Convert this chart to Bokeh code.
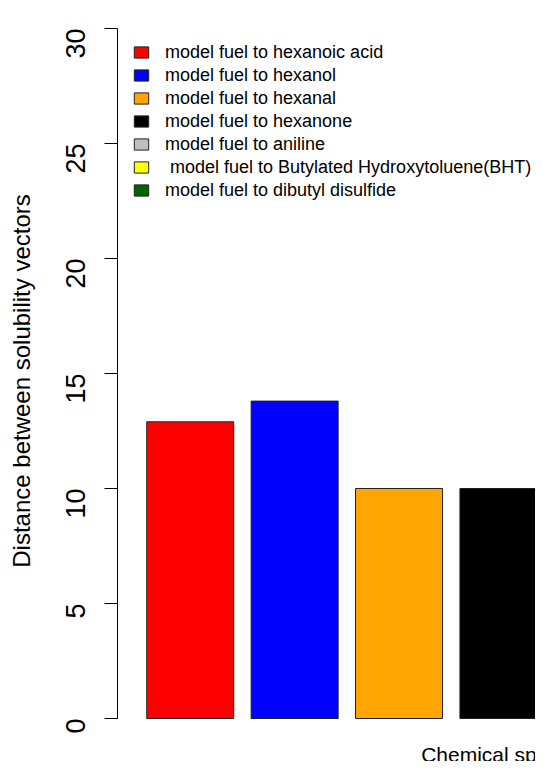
from bokeh.plotting import figure
from bokeh.models import ColumnDataSource, Legend, LegendItem, Label, Range1d
from bokeh.embed import file_html
from bokeh.resources import INLINE
import math

# ---- data ----
series_labels = [
    "model fuel to hexanoic acid",
    "model fuel to hexanol",
    "model fuel to hexanal",
    "model fuel to hexanone",
    "model fuel to aniline",
    "\u00a0model fuel to Butylated Hydroxytoluene(BHT)",
    "model fuel to dibutyl disulfide",
]
series_colors = ["#FF0000", "#0000FF", "#FFA500", "#000000", "#BEBEBE", "#FFFF00", "#006400"]
# bars beyond the right edge of the picture cannot be read -> NaN (not drawn)
values = [12.9, 13.8, 10.0, 10.0, float("nan"), float("nan"), float("nan")]
y_ticks = [0, 5, 10, 15, 20, 25, 30]
y_label = "Distance between solubility vectors"
x_label = "Chemical species"

FONT = "Liberation Sans"

# barplot geometry (R style: width 1, space 0.2)
bar_w = 1.0
space = 0.2
n_all = len(series_labels)
centers = [space + bar_w / 2 + i * (bar_w + space) for i in range(n_all)]
x_lo = space - 0.04 * (n_all * (bar_w + space))   # R 4% extension
px_per_x = 87.0
frame_w = 418
x_hi = x_lo + frame_w / px_per_x

px_per_y = 23.0
frame_h = 761
top_pad = 28
y_hi = y_ticks[-1] + top_pad / px_per_y
y_lo = y_hi - frame_h / px_per_y

p = figure(frame_width=frame_w, frame_height=frame_h,
           min_border_left=117, min_border_right=0, min_border_top=0, min_border_bottom=0,
           x_range=Range1d(x_lo, x_hi), y_range=Range1d(y_lo, y_hi),
           output_backend="svg", toolbar_location=None, x_axis_location=None)
p.grid.visible = False
p.outline_line_color = None
p.background_fill_color = "white"
p.border_fill_color = "white"

src = ColumnDataSource(dict(x=centers, top=values, color=series_colors))
bars = p.vbar(x="x", top="top", bottom=0, width=bar_w, source=src,
              fill_color="color", line_color="#222222", line_width=1)

# legend (one entry per bar colour)
items = [LegendItem(label=lab, renderers=[bars], index=i) for i, lab in enumerate(series_labels)]
legend_h = len(items) * 23 - 1
legend_top = 41
legend = Legend(items=items, location=(15, frame_h - legend_top - legend_h),
                glyph_width=18, glyph_height=14, label_standoff=15,
                label_height=22, spacing=1, padding=0, margin=0,
                label_text_font=FONT, label_text_font_size="18px", label_text_color="black",
                border_line_alpha=0, background_fill_alpha=0)
p.add_layout(legend)

ax = p.yaxis[0]
ax.ticker = y_ticks
ax.bounds = (y_ticks[0], y_ticks[-1])
ax.major_tick_out = 13
ax.major_tick_in = 0
ax.minor_tick_out = 0
ax.minor_tick_in = 0
ax.major_label_orientation = math.pi / 2
ax.major_label_text_font = FONT
ax.major_label_text_font_size = "27px"
ax.major_label_text_color = "black"
ax.major_label_standoff = 29
ax.axis_label = y_label
ax.axis_label_text_font = FONT
ax.axis_label_text_font_size = "24px"
ax.axis_label_text_font_style = "normal"
ax.axis_label_text_color = "black"
ax.axis_label_standoff = 19
ax.axis_line_color = "black"
ax.major_tick_line_color = "black"

mid_x = space + (n_all * (bar_w + space) - space) / 2
p.add_layout(Label(x=mid_x, y=y_lo + 7 / px_per_y, text=x_label, text_align="center",
                   text_baseline="alphabetic", text_font=FONT, text_font_size="21px",
                   text_color="black"))

open("out.html", "w").write(file_html(p, INLINE))
